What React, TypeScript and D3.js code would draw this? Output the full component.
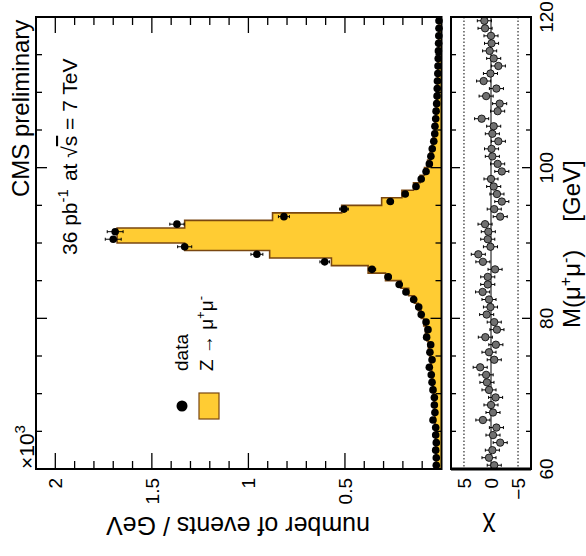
import React from 'react';
import * as d3 from 'd3';

// 1 GeV bins of the dimuon mass, lower edges 60 ... 119
const binLow: number[] = d3.range(60, 120);

// observed events per GeV (x10^3), one entry per bin
const dataRate: number[] = [
  0.027, 0.027, 0.030, 0.027, 0.030, 0.030, 0.044, 0.034, 0.037, 0.037,
  0.044, 0.049, 0.053, 0.063, 0.049, 0.060, 0.056, 0.077, 0.070, 0.080,
  0.105, 0.118, 0.144, 0.184, 0.219, 0.276, 0.360, 0.605, 0.956, 1.330,
  1.700, 1.690, 1.370, 0.816, 0.505, 0.265, 0.188, 0.132, 0.105, 0.080,
  0.063, 0.055, 0.048, 0.040, 0.035, 0.034, 0.030, 0.028, 0.025, 0.023,
  0.022, 0.021, 0.019, 0.018, 0.017, 0.016, 0.015, 0.014, 0.013, 0.013,
];

// Z -> mu mu simulation, events per GeV (x10^3)
const mcRate: number[] = [
  0.028, 0.028, 0.029, 0.030, 0.031, 0.032, 0.034, 0.035, 0.037, 0.039,
  0.042, 0.045, 0.049, 0.053, 0.057, 0.062, 0.068, 0.075, 0.083, 0.092,
  0.105, 0.120, 0.140, 0.170, 0.210, 0.290, 0.380, 0.570, 0.890, 1.330,
  1.680, 1.680, 1.330, 0.875, 0.517, 0.310, 0.205, 0.145, 0.110, 0.088,
  0.072, 0.060, 0.050, 0.044, 0.038, 0.034, 0.031, 0.028, 0.026, 0.024,
  0.022, 0.021, 0.019, 0.018, 0.017, 0.016, 0.015, 0.014, 0.013, 0.013,
];

// pull (data - MC) / sigma per bin
const chiPull: number[] = [
  -0.6, 0.37, -0.25, -1.7, -0.37, -1.0, 1.5, -0.37, 0.0, -0.85,
  0.37, 0.75, 0.9, 2.0, -0.6, 0.37, -0.9, 1.05, -1.1, -0.6,
  0.8, 0.1, 0.37, 1.55, 0.6, 0.6, -0.75, 1.5, 2.35, 0.1,
  0.6, 0.5, 1.1, -1.7, -0.6, -2.0, -1.1, -0.5, 0.0, -2.0,
  -1.23, -0.25, -0.1, -1.36, -0.25, -0.5, 1.73, -1.23, -1.6, 0.9,
  -1.0, 1.36, 0.1, -1.36, -0.5, 0.25, -0.1, 0.0, 1.1, 1.23,
];

const countLabels = [0.5, 1, 1.5, 2];
const massLabels = [60, 80, 100, 120];
const chiLabels = [5, 0, -5];
const chiGuides = [5, -5];

const FONT = "'Liberation Sans', Arial, Helvetica, sans-serif";
const YELLOW = '#ffcc33';
const BROWN = '#7a4710';
const CHI_ERR = 1.3;

const mass = d3.scaleLinear().domain([60, 120]).range([469, 17]);
const count = d3.scaleLinear().domain([0, 2.1]).range([441.5, 36]);
const pull = d3.scaleLinear().domain([7.4, -7.4]).range([451, 531]);

export default function App() {
  // stepped histogram outline (mass runs vertically)
  const steps: [number, number][] = [];
  binLow.forEach((lo, i) => {
    steps.push([count(mcRate[i]), mass(lo)]);
    steps.push([count(mcRate[i]), mass(lo + 1)]);
  });
  const stepLine = d3.line()(steps) || '';
  const areaPts: [number, number][] = [
    [count(0), mass(60)],
    ...steps,
    [count(0), mass(120)],
  ];
  const areaPath = (d3.line()(areaPts) || '') + 'Z';

  const massTickVals = d3.range(60, 121, 5);
  const countTickVals = d3.range(1, 21).map((k) => k / 10);

  const xL = count.range()[1];
  const xR = count.range()[0];
  const yT = mass.range()[1];
  const yB = mass.range()[0];
  const cL = pull.range()[0];
  const cR = pull.range()[1];

  return (
    <svg
      width={586}
      height={556}
      style={{ position: 'absolute', left: 0, top: 0, background: '#fff' }}
      fontFamily={FONT}
    >
      {/* MC histogram */}
      <path d={areaPath} fill={YELLOW} stroke="none" />
      <path d={stepLine} fill="none" stroke={BROWN} strokeWidth={1.6} />

      {/* data points with Poisson errors */}
      {binLow.map((lo, i) => {
        const v = dataRate[i];
        const err = Math.sqrt(v * 1000) / 1000;
        const cy = mass(lo + 0.5);
        const a = count(v + err);
        const b = count(v - err);
        return (
          <g key={'d' + i}>
            <line x1={a} x2={b} y1={cy} y2={cy} stroke="#000" strokeWidth={1} />
            <line x1={a} x2={a} y1={cy - 1.5} y2={cy + 1.5} stroke="#000" strokeWidth={1} />
            <line x1={b} x2={b} y1={cy - 1.5} y2={cy + 1.5} stroke="#000" strokeWidth={1} />
            <circle cx={count(v)} cy={cy} r={3.8} fill="#000" />
          </g>
        );
      })}

      {/* main frame */}
      <rect x={xL} y={yT} width={xR - xL} height={yB - yT} fill="none" stroke="#000" strokeWidth={2} />

      {/* mass ticks on both panels */}
      {massTickVals.map((m) => {
        const major = (m - 60) % 20 === 0;
        const len = major ? 11 : 6;
        const y = mass(m);
        return (
          <g key={'mt' + m}>
            <line x1={xL} x2={xL + len} y1={y} y2={y} stroke="#000" strokeWidth={1.3} />
            <line x1={xR} x2={xR - len} y1={y} y2={y} stroke="#000" strokeWidth={1.3} />
            <line x1={cL} x2={cL + (major ? 9 : 5)} y1={y} y2={y} stroke="#000" strokeWidth={1.3} />
            <line x1={cR} x2={cR - (major ? 9 : 5)} y1={y} y2={y} stroke="#000" strokeWidth={1.3} />
          </g>
        );
      })}

      {/* count ticks */}
      {countTickVals.map((c) => {
        const major = Math.abs(c * 2 - Math.round(c * 2)) < 1e-6;
        const len = major ? 16 : 8;
        const x = count(c);
        return (
          <g key={'ct' + c}>
            <line x1={x} x2={x} y1={yT} y2={yT + len} stroke="#000" strokeWidth={1.3} />
            <line x1={x} x2={x} y1={yB} y2={yB - len} stroke="#000" strokeWidth={1.3} />
          </g>
        );
      })}

      {/* count tick labels */}
      {countLabels.map((c) => (
        <text
          key={'cl' + c}
          transform={`translate(${count(c) + 7},478) rotate(-90)`}
          textAnchor="end"
          fontSize={19}
        >
          {String(c)}
        </text>
      ))}

      {/* x10^3 */}
      <text transform="translate(34,469) rotate(-90)" fontSize={21}>
        ×10
        <tspan fontSize={15} dy={-9}>3</tspan>
      </text>

      {/* count axis title */}
      <text transform="translate(370,517) rotate(180)" fontSize={25}>
        number of events / GeV
      </text>

      {/* pull panel */}
      {chiGuides.map((g) => (
        <line
          key={'g' + g}
          x1={pull(g)}
          x2={pull(g)}
          y1={yT}
          y2={yB}
          stroke="#000"
          strokeWidth={1}
          strokeDasharray="1.5,2"
        />
      ))}
      <line x1={pull(0)} x2={pull(0)} y1={yT} y2={yB} stroke="#000" strokeWidth={1} />
      {binLow.map((lo, i) => {
        const p = chiPull[i];
        const cy = mass(lo + 0.5);
        const a = pull(p + CHI_ERR);
        const b = pull(p - CHI_ERR);
        return (
          <g key={'p' + i}>
            <line x1={a} x2={b} y1={cy} y2={cy} stroke="#000" strokeWidth={1} />
            <line x1={a} x2={a} y1={cy - 1.5} y2={cy + 1.5} stroke="#000" strokeWidth={1} />
            <line x1={b} x2={b} y1={cy - 1.5} y2={cy + 1.5} stroke="#000" strokeWidth={1} />
            <circle cx={pull(p)} cy={cy} r={3.7} fill="#707070" stroke="#000" strokeWidth={0.8} />
          </g>
        );
      })}
      <rect x={cL} y={yT} width={cR - cL} height={yB - yT} fill="none" stroke="#000" strokeWidth={2} />
      <line x1={cL} x2={cR} y1={yB} y2={yB} stroke="#000" strokeWidth={3} />

      {chiLabels.map((c) => (
        <text
          key={'xl' + c}
          transform={`translate(${pull(c) + 7},478) rotate(-90)`}
          textAnchor="end"
          fontSize={19}
        >
          {c < 0 ? '\u2212' + Math.abs(c) : String(c)}
        </text>
      ))}
      <text transform="translate(489,518) rotate(180)" textAnchor="middle" fontSize={25}>
        χ
      </text>

      {/* mass axis labels and title */}
      {massLabels.map((m) => (
        <text
          key={'ml' + m}
          transform={`translate(553,${mass(m)}) rotate(-90)`}
          textAnchor="middle"
          fontSize={19}
        >
          {String(m)}
        </text>
      ))}
      <text transform="translate(580,328) rotate(-90)" fontSize={24}>
        M(μ<tspan fontSize={16} dy={-9}>+</tspan>
        <tspan dy={9}>μ</tspan>
        <tspan fontSize={16} dy={-9}>-</tspan>
        <tspan dy={9}>)</tspan>
        <tspan dx={28}>[GeV]</tspan>
      </text>

      {/* labels */}
      <text transform="translate(29,197) rotate(-90)" fontSize={24}>
        CMS preliminary
      </text>
      <text transform="translate(77,255) rotate(-90)" fontSize={21}>
        36 pb<tspan fontSize={15} dy={-9}>-1</tspan>
        <tspan dy={9} dx={8}>at √</tspan>
        <tspan textDecoration="overline">s</tspan>
        <tspan> = 7 TeV</tspan>
      </text>

      {/* legend */}
      <circle cx={182} cy={406} r={5.5} fill="#000" />
      <rect x={199} y={393} width={20} height={26} fill={YELLOW} stroke={BROWN} strokeWidth={1.2} />
      <text transform="translate(188,371) rotate(-90)" fontSize={19}>
        data
      </text>
      <text transform="translate(213,371) rotate(-90)" fontSize={19}>
        Z → μ<tspan fontSize={13} dy={-8}>+</tspan>
        <tspan dy={8}>μ</tspan>
        <tspan fontSize={13} dy={-8}>-</tspan>
      </text>
    </svg>
  );
}
